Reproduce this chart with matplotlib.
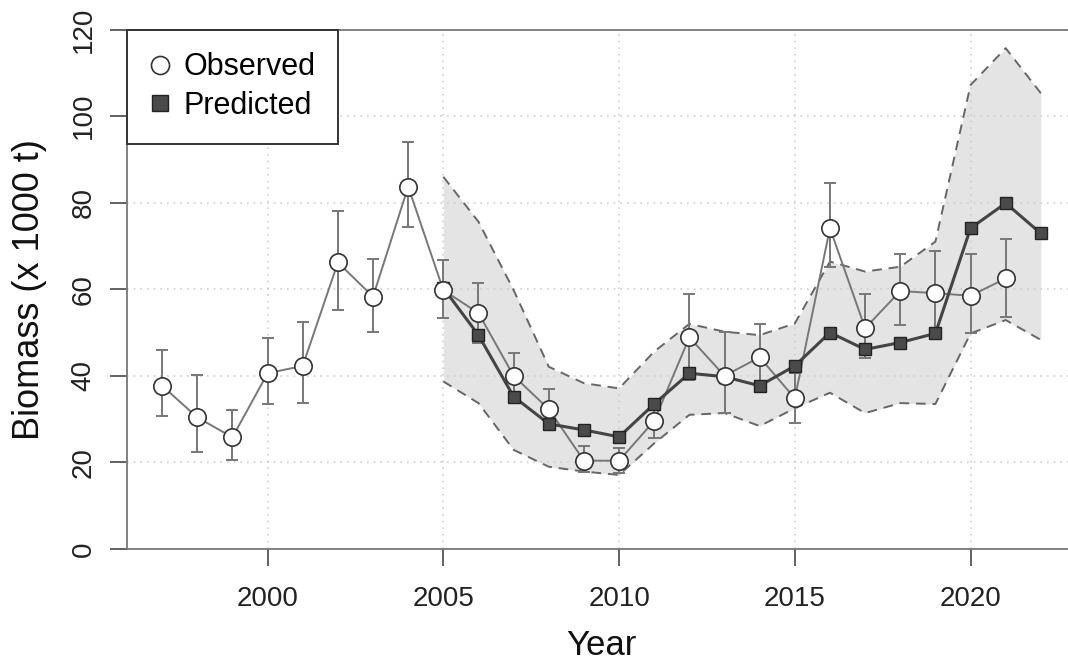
import matplotlib
matplotlib.use("Agg")
import matplotlib.pyplot as plt
from matplotlib.lines import Line2D
import numpy as np

plt.rcParams['font.family'] = ['Liberation Sans', 'DejaVu Sans']

# Observed biomass with error bars
obs_years = list(range(1997, 2022))
obs_vals = [37.7, 30.4, 25.8, 40.6, 42.3, 66.2, 58.3, 83.7, 59.8, 54.5, 40.0, 32.3,
            20.4, 20.4, 29.6, 48.9, 40.0, 44.3, 34.8, 74.1, 51.0, 59.6, 59.1, 58.5, 62.5]
obs_upper = [46.0, 40.2, 32.0, 48.8, 52.4, 78.1, 67.0, 94.0, 66.8, 61.4, 45.2, 36.9,
             23.8, 23.3, 33.6, 58.8, 50.2, 52.0, 40.6, 84.5, 58.9, 68.2, 68.9, 68.2, 71.6]
obs_lower = [30.8, 22.5, 20.6, 33.5, 33.8, 55.2, 50.2, 74.3, 53.4, 47.6, 34.8, 27.7,
             17.9, 17.5, 25.6, 39.0, 31.4, 36.6, 29.0, 65.2, 44.1, 51.8, 49.3, 49.8, 53.7]

# Predicted biomass with confidence band
pred_years = list(range(2005, 2023))
pred_vals = [60.3, 49.4, 35.2, 28.9, 27.5, 25.9, 33.5, 40.6, 39.8, 37.7, 42.3, 50.0,
             46.1, 47.7, 49.8, 74.1, 79.9, 72.9]
pred_upper = [86.0, 75.6, 59.8, 42.1, 38.3, 37.1, 45.6, 52.0, 50.2, 49.4, 52.1, 66.4,
              64.1, 65.2, 71.0, 107.2, 115.7, 105.3]
pred_lower = [38.7, 33.7, 22.9, 19.0, 17.9, 17.1, 24.4, 31.0, 31.4, 28.4, 32.5, 36.1,
              31.4, 33.7, 33.5, 49.8, 52.9, 48.3]

x_ticks = [2000, 2005, 2010, 2015, 2020]
y_ticks = [0, 20, 40, 60, 80, 100, 120]

fig = plt.figure(figsize=(10.68, 6.66), dpi=100)
ax = fig.add_axes([127/1068, 0.1757, (1076-127)/1068, 0.7799])
ax.set_xlim(1996, 2023)
ax.set_ylim(0, 120)

axis_col = '#777777'
ax.fill_between(pred_years, pred_lower, pred_upper, color='#e4e4e4', lw=0, zorder=0.5)
ax.plot(pred_years, pred_upper, color='#666666', lw=1.4, ls=(0, (5, 3.5)), zorder=1.2)
ax.plot(pred_years, pred_lower, color='#666666', lw=1.4, ls=(0, (5, 3.5)), zorder=1.2)

for xt in x_ticks:
    ax.axvline(xt, color='#cfcfcf', lw=1.2, ls=(0, (1, 3)), zorder=1)
for yt in y_ticks:
    ax.axhline(yt, color='#cfcfcf', lw=1.2, ls=(0, (1, 3)), zorder=1)

yerr = [np.array(obs_vals) - np.array(obs_lower), np.array(obs_upper) - np.array(obs_vals)]
ax.errorbar(obs_years, obs_vals, yerr=yerr, fmt='none', ecolor='#777777',
            elinewidth=1.4, capsize=4.5, capthick=1.4, zorder=2)
ax.plot(obs_years, obs_vals, color='#777777', lw=1.4, zorder=2.1)
ax.plot(pred_years, pred_vals, color='#444444', lw=2.2, marker='s', ms=9,
        mfc='#4a4a4a', mec='#222222', mew=1.0, zorder=3)
ax.plot(obs_years, obs_vals, ls='none', marker='o', ms=12.5, mfc='white',
        mec='#333333', mew=1.2, zorder=4)

for side in ['left', 'bottom', 'top', 'right']:
    ax.spines[side].set_color(axis_col)
    ax.spines[side].set_linewidth(1.3)

ax.set_xticks(x_ticks)
ax.set_yticks(y_ticks)
ax.tick_params(axis='both', direction='out', length=12, width=1.3, color='#555555',
               labelsize=20, labelcolor='#222222')
ax.tick_params(axis='x', pad=15)
ax.tick_params(axis='y', pad=10)
for lab in ax.get_yticklabels():
    lab.set_rotation(90)
    lab.set_va('center')

ax.set_xlabel('Year', fontsize=25, color='#111111', labelpad=12)
ax.set_ylabel('Biomass (x 1000 t)', fontsize=26, color='#111111', labelpad=17)

handles = [
    Line2D([], [], ls='none', marker='o', ms=13, mfc='white', mec='#333333', mew=1.2),
    Line2D([], [], ls='none', marker='s', ms=12, mfc='#4a4a4a', mec='#222222', mew=1.0),
]
leg = ax.legend(handles, ['Observed', 'Predicted'], loc='upper left', bbox_to_anchor=(0, 1),
                borderaxespad=0, fontsize=22, frameon=True, fancybox=False,
                handlelength=0.65, handletextpad=0.45, borderpad=0.75, labelspacing=0.28)
leg.get_frame().set_edgecolor('#333333')
leg.get_frame().set_linewidth(1.4)
leg.get_frame().set_alpha(1)
leg.set_zorder(10)

fig.savefig('out.png', dpi=100)
